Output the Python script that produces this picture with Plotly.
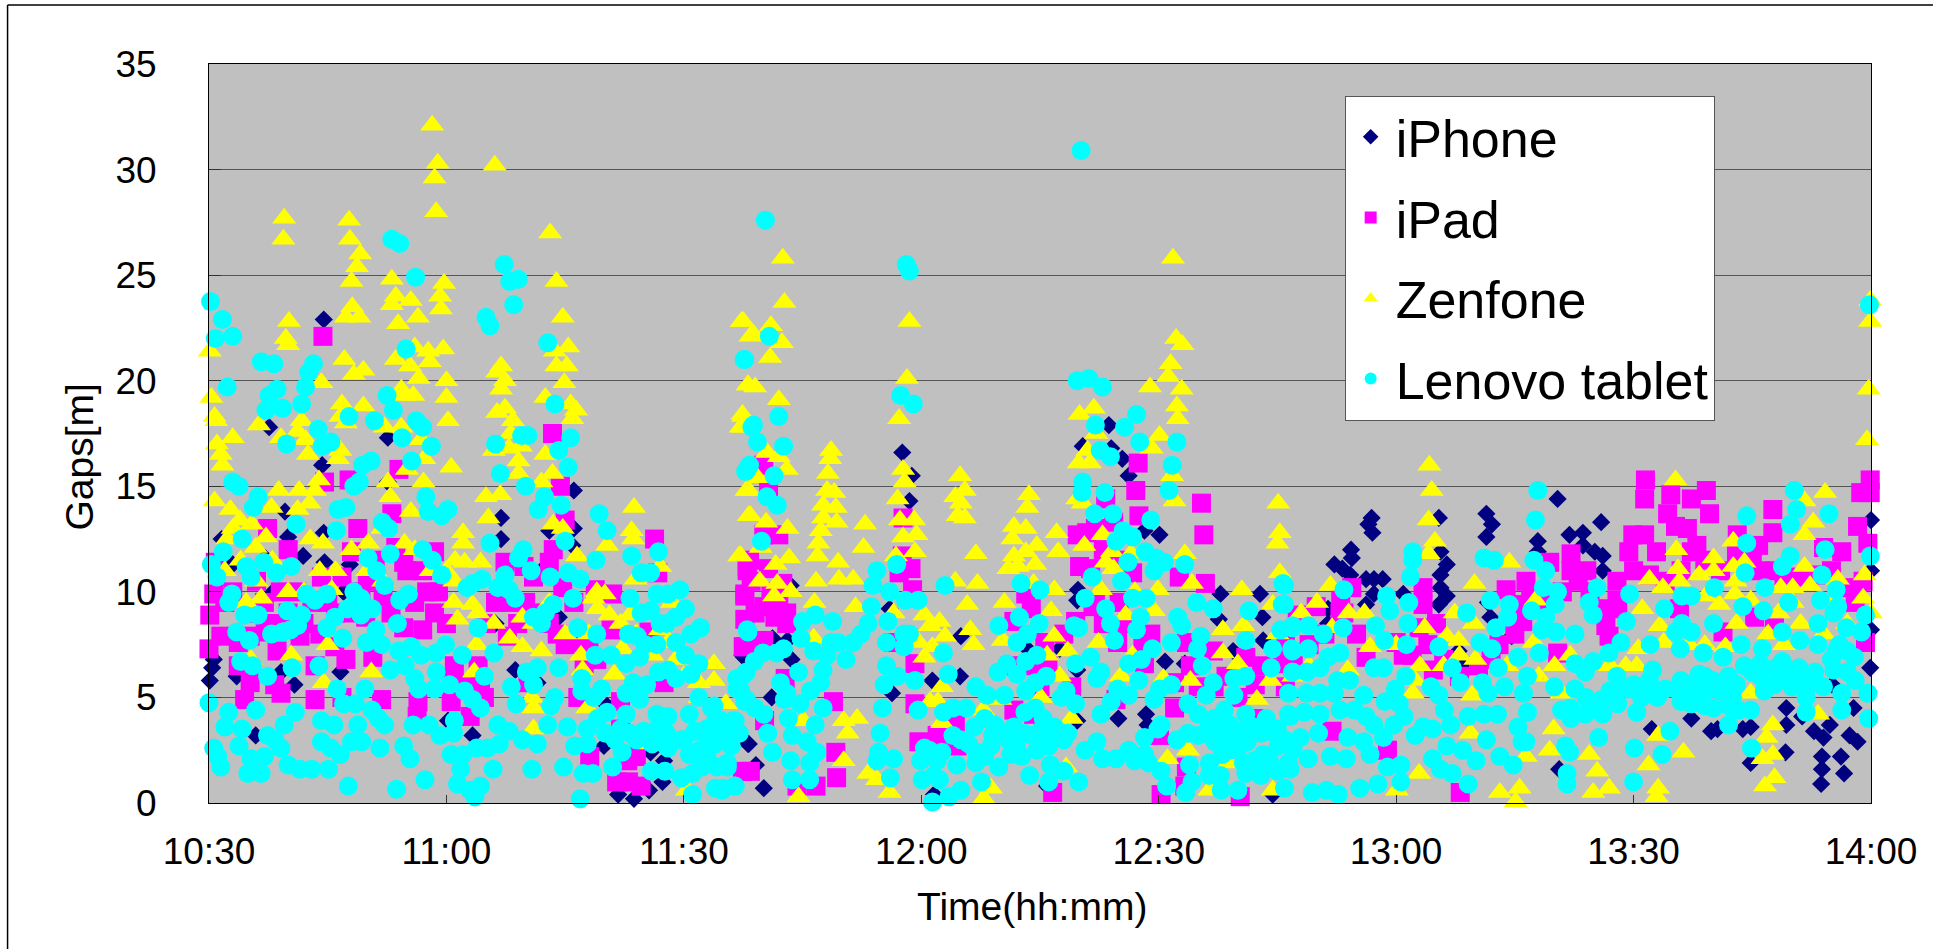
import pandas as pd
import plotly.graph_objects as go

# (minutes after 10:30, gap in metres)
iphone = [(14.5,22.9),(7.6,17.8),(22.6,17.3),(14.3,16),(22.6,15.2),(46.1,14.8),(36.9,13.5),(9.6,13.8),(36.9,12.5),(46.1,13),(43,12.9),(10,12.6),(14.5,12.8),(45.9,12.2),(1.6,12.5),(11.9,11.7),(3,11.3),(7.1,11.6),(14.6,11.4),(17.8,11.3),(8.1,10),(17,10),(42.5,11.2),(44.2,8.8),(36.2,8.5),(38.7,6.3),(.4,6.4),(.6,6.8),(.1,5.8),(10.8,5.6),(16.6,6.2),(9.1,6.2),(5.9,3.2),(3.5,6),(49.9,2.7),(51.7,.4),(53.7,.2),(55.6,.6),(57.3,1),(57.5,2),(55.8,2.4),(50.3,4.6),(68.1,2.8),(67.6,6.9),(33.3,3.2),(30.2,3.9),(41.5,5.7),
(87.6,16.6),(88.8,15.5),(88.5,14.3),(113.7,17.9),(114,16.8),(115.4,16.3),(116.2,15.5),(110.4,16.9),(118.2,12.9),(120.1,12.7),(127.8,9.9),(132.8,9.9),(133.1,8.8),(127.6,8.7),(133.2,7.7),(129.4,7.2),(123.3,6.6),(120.8,6.7),(118.4,4.2),(118.6,3.7),(114.9,4),(109.8,10.1),(109.7,9.6),(86.3,5.2),(86,9.2),(95,7.9),(91.4,5.8),(94.9,6),(68.2,2.8),(69.1,1.8),(70.1,.7),(71.1,5),(67.4,7),(73.6,6.8),(73.1,7.7),(73.5,10.3),(103.4,7.3),(107.5,7.3),(109.7,6.3),(109.7,3.9),(105.9,.8),(134.4,.4),(91.6,.4),(71.2,7.8),
(146.9,13.5),(146.5,13.2),(147,12.8),(161.4,13.7),(162.1,13.2),(161.4,12.6),(170.4,14.4),(175.9,13.3),(171.9,12.7),(173.6,12.8),(173.6,12.2),(155.4,13.5),(144.3,12),(144.4,11.6),(142.2,11.3),(143.2,11.1),(144.2,10.8),(146.2,10.6),(147.2,10.6),(148.3,10.6),(147.2,9.9),(146.2,9.4),(141.4,9.2),(141.4,8.5),(155.6,11.9),(156.4,11.3),(155.6,10.8),(155.6,10.2),(156.4,9.8),(155.4,9.4),(150.9,9.9),(167.9,12.4),(167.9,11.9),(175.1,11.9),(176.1,11.7),(176.1,11),(161.6,9.5),(161.9,8.8),(157.9,7.2),(158.4,6.5),(164.6,7.9),(210,13.4),(210,11),(210,8.2),(209.9,6.4),
(187.3,4),(189.8,3.4),(190.6,3.5),(193.8,3.5),(194.8,3.6),(199.3,4.5),(199.3,3.7),(201.3,4.1),(204.8,3.7),(202.8,3.4),(204,3.1),(199.2,2.4),(207.3,3.2),(208.3,2.9),(207.8,4.5),(203.8,2.2),(206.2,2.2),(203.8,1.6),(206.6,1.4),(203.7,.9),(205.1,5.6),(194.8,1.9),(170.6,1.6),(182.3,3.5)]

ipad = [(14.4,22.1),(43.4,17.5),(44.4,15),(14.6,15.2),(17.7,15.3),(24,15.8),(7.4,13),(18.8,13),(10,12),(45,13.4),(43.5,12),(56.3,12.5),(56.7,10.9),(23.1,13.7),(23.6,12.1),(24.6,11.4),(28.5,11.9),(37.4,11.4),(39.8,11.2),(.8,11.4),(.6,9.9),(.1,8.9),(0,7.3),(1.5,7.9),(3.7,7.6),(5.2,7.9),(3.7,6.5),(5.2,5.7),(4.5,4.9),(9.1,5.2),(8.3,5.6),(13.4,4.9),(13.4,6.5),(16.8,5),(21.8,4.9),(26.4,4.8),(26.3,4.1),(30.6,4.8),(34.8,5),(33,4.1),(7.1,8.1),(8.6,7.2),(11.5,7.9),(14.2,10.7),(16.8,10.7),(18,11.9),(19.2,10),(19.8,8.8),(15.9,7.4),(17.3,6.8),(20.7,6.9),(24.6,8.3),(27.5,10),(28.5,9),(27,8.2),(30.9,5.7),(34.3,5.7),(36.2,9.5),(37.7,7.9),(41,10.7),(43,11.4),(44,8),(44.7,10.2),(46.1,9.5),(46.4,7.6),(48.8,10.1),(51,9.9),(50.8,8.2),(47.4,6.5),(46.6,5),(48.1,2.2),(51.5,1),(52.9,2),(54.6,.8),(55.6,8.1),(57.5,5.7),(52,4.8),(68,11.2),(67.7,9.9),(67.7,7.4),(68.4,1.5),(40.3,5.7),
(70.1,16),(70.7,14.8),(70.1,12.7),(72,12.7),(68.3,11.5),(68,11),(70.7,11.1),(72.5,10.4),(67.7,9.8),(67.7,8.7),(70.1,9.3),(73,9),(73,8.5),(67.5,7.4),(70.1,7.7),(72.8,5.9),(70.2,3.9),(67.4,1.5),(74.3,.8),(76.7,.8),(78.9,4.8),(79.2,2.4),(79.3,1.2),(87.7,13.5),(87.6,11.7),(87.2,10.9),(88.7,11.1),(88.9,10.1),(86.5,7.6),(89.2,6.6),(89.7,2.9),(92,3.2),(94.3,3.7),(94.5,2.7),(117.4,16.1),(117.1,14.8),(117.5,13.6),(125.4,14.2),(125.7,12.7),(122.6,10.7),(125.9,10.4),(109.7,12.7),(110.9,12.8),(110,11.2),(111.4,11.1),(113.3,14.4),(114.3,13.3),(116.7,10.9),(111.7,9.3),(109.5,8.6),(105.6,7.6),(103.9,9.2),(101.7,8.6),(103.2,9.9),(109,5.5),(101.7,4.4),(104.2,4.2),(114.8,7.6),(114.6,4.9),(118.2,6.6),(120.3,.4),(120.1,3.2),(122,5.7),(123.5,7.6),(123.5,1.7),(123.3,.8),(126.9,7.2),(131,6.9),(132.2,5.6),(130,3.2),(130.3,.3),(135.6,6.6),(137.5,8.9),(106.6,.5),(89.2,4.7),
(181.5,15.3),(181.4,14.4),(189.2,14.8),(184.7,14.6),(187.3,14.4),(189.6,13.7),(184.3,13.7),(197.6,13.9),(209.9,15.3),(208.7,14.7),(209.9,14.7),(208.3,13.1),(209.6,12.3),(179.9,12.7),(181.4,12.7),(185.3,13.1),(186.8,13),(193.1,12.7),(179.4,11.9),(182.9,11.9),(187.3,11.9),(197.6,12.8),(195.8,12.2),(204,12.1),(206.3,11.9),(172.1,11.8),(169.4,11.4),(172.1,11),(174.1,11),(177.9,10.5),(177.9,9.6),(163.9,10.1),(166.4,10.5),(165.4,9.4),(153.4,10.2),(153.4,9.4),(152.9,8.3),(155.1,8.5),(139.9,9.3),(143.4,9),(144.4,10.2),(150.9,7),(146.2,6.9),(154.7,6.3),(160.4,6.5),(170.4,7.1),(176.9,7.9),(176.1,9.2),(185.8,9.2),(191.3,8.1),(195.3,8.8),(197.8,8.3),(208.3,9.9),(209.3,7.6),(158.1,.5),(148.9,2.5),(141.9,3.4),(142.9,9),
(180,11),(182,10.8),(184,10.5),(186,11),(188,12.2),(189,11.5),(191,11),(193,11.8),(195,11.5),(196,11),(198,11),(199,10.5),(201,10.7),(203,10.8),(205,11),(207,10.2),(208,9.5),(209,10.5),(178,9.2),(176.5,8.4),(174.5,10),(173,10.5),(171,10),(169,9.5),(167,9.8),(166,8.6),(165,8),(163,7.5),(162,6.8),(158,6),(156,6.8),(154,7.5),(152,7),(150,7.6),(145,8),(143,9.7),(141,8),(139,7.5),(137,6.5),(136,7.5),
(2,9.5),(3,10),(5,9),(6,10.5),(7,9.5),(8,8.5),(9,10),(10,9),(11,10),(12,8.5),(13,9.5),(14,8),(15,9.5),(16,9),(18,9),(20,10.5),(21,11.5),(22,9.8),(23,9),(25,11),(26,9.5),(27,11),(29,10),(30,8.5),(31,6.5),(32,5.5),(34,6.5),(35,8.5),(38,9.5),(39,8.5),(40,9.5),(42,9),(43,8.5),(45,7.5),(48,7.5),(49,6.8),(52,3.5),(54,2.2),(53,1),
(68.5,10.5),(69,9),(69,7.5),(71,10),(71.5,8.8),(72,9.5),(112,13),(113,12),(115,11.5),(112,9.5),(113,8.5),(115,9.5),(116,8.5),(118,7.5),(119,8),(104,6.5),(105,5.5),(106,6.5),(102,6.5),(108,8),(122,4.5),(124,6.5),(125,5.5),(127,5.5),(128.5,6),(130,5),(132,4),(133,6.5),(136,5.5)]

zenfone = [(28.2,32.1),(28.9,30.3),(28.5,29.6),(28.7,28),(36.1,30.2),(9.5,27.7),(9.4,26.7),(17.7,27.6),(17.8,26.7),(19.1,26),(18.7,25.4),(18,24.7),(23.1,24.8),(29.7,24.6),(29.2,24),(29.3,23.4),(23.6,24),(23.1,23.6),(25.5,23.8),(26.4,23),(18.1,23.5),(17.3,23),(19,23),(23.9,22.7),(10.1,22.8),(9.7,22),(10,21.7),(.1,21.4),(17.1,21),(23.6,21),(26,21.6),(27.7,21.4),(29.6,21.5),(27.9,20.9),(25.4,20.7),(19.5,20.5),(18.3,20.3),(26.5,20.1),(30,20),(14.2,19.9),(24.3,19.6),(25.8,19.3),(24.6,19.3),(30,19.2),(.3,19.2),(.7,18.3),(.9,18.1),(19.5,18.8),(16.8,18.9),(16.6,18.3),(17.3,18),(6.3,17.9),(30.2,18.1),(24.3,17.8),(22.2,17.8),(11.7,18.1),(11.2,17.6),(12.2,17.2),(3,17.3),(1,17),(9.1,17.3),(26.8,17.2),(12.5,16.5),(16.6,16.7),(1.5,16.5),(1.7,16),(27.2,16.3),(16.3,16.3),(30.6,15.9),(25,15.8),(27.1,15.2),(8.8,14.8),(11.4,14.8),(22.6,15.2),(22.9,14.5),(13.9,15.3),(13.4,14.8),(12.7,14.2),(.7,14.3),(7.9,14),(11.2,13.9),(2.7,13.9),(3.9,13.4),(5.4,13.2),(3,13),(2.3,12.5),(5.9,12.1),(7.2,12.6),(12.8,12.5),(14.4,12.3),(20.1,12.3),(24.7,12.3),(25.5,13.8),(21.9,13),(32.1,12.8),(32.1,12.3),(31.1,11.5),(32.3,11.4),(34.3,11.4),(35,14.5),(36.8,14.6),(35.3,13.5),(36.9,20.7),(36.4,20.4),(37.4,20),(36.9,19.6),(37.4,18.7),(36.4,18.5),(38.4,18.1),(38.1,17.5),(39.4,16.9),(37.9,16.8),(39.1,16.2),(39.1,15.6),(36,16.7),(43.1,27),(43.9,24.7),(44.7,23),(43.7,21.4),(45.4,21.6),(43.9,20.7),(45.2,20.7),(44.9,19.9),(42.5,19.2),(45.7,18.9),(46.4,18.6),(45.9,18.2),(42.5,16.5),(43.4,15.6),(42,15.2),(43.5,13.2),(44.7,13),(46.5,11.7),(53.7,14),(53.4,12.9),(53.6,12.5),(50.3,12.2),(57,11.2),(53.9,10.6),(48.6,9.7),(50,9.9),(49.1,9.2),(50.6,8.9),(53.2,8.9),(58.5,9.5),(58,7.6),(52.2,7.3),(51.2,6.1),(47,7),(47.2,6.3),(47.8,4.5),(41,4.5),(40.8,5),(39.6,7.4),(42,7.2),(39.6,8.8),(33.8,7.5),(33.5,6.2),(31.4,8.7),(30.9,9.5),(33.3,9.4),(10.4,7),(15,7.5),(14.5,5.7),(20.5,6.2),(5.3,6.8),(6.6,9.7),(4.7,9.5),(15.5,10.1),(55.6,2.8),(63.8,6.6),(63.8,5.8),(61.9,5.7),(67.2,11.7),(67.5,22.8),(68.4,22.1),(68.1,19.8),(67.5,18.3),(67.5,17.8),(68.2,14.8),(68.2,13.6),(41,3.5),(60.4,.6),(65.3,4.7),
(72.5,25.8),(72.7,23.7),(88.5,22.8),(67.3,22.8),(68.8,22.2),(71,22.6),(72.4,21.8),(70.9,21.1),(88.2,20.1),(68.1,19.8),(69,19.7),(72,19.1),(67.4,18.4),(67.2,17.8),(87.2,18.2),(70.5,16.6),(72,16.4),(73,15.8),(69.3,15.4),(67.9,14.8),(68.4,13.6),(70.4,13.3),(73.1,13),(69.7,12.1),(67,11.7),(73.3,11.6),(71.6,11.3),(69.6,10.5),(71.8,10.4),(73.5,10),(71.4,9.8),(78.6,16.7),(78.5,16.3),(78.2,15.6),(78.1,14.8),(79,14.7),(77.6,14.1),(79.2,14),(77.6,13.5),(79.3,13.3),(77.3,12.9),(77,12.3),(76.9,11.7),(82.9,13.2),(82.7,12.1),(79.5,11.4),(79.6,10.6),(81.4,10.6),(76.7,10.5),(76.5,9.5),(81.7,9.3),(76.4,7.8),(80.2,3.9),(81.9,4),(80.7,3.3),(80.2,2),(83.3,1.4),(84.4,1.1),(86,.5),(74.5,.3),(75.1,3.9),(87.7,15.8),(87.9,15.2),(87,14.4),(87.3,13.4),(89.1,13.4),(87.7,12.6),(89.4,12.7),(89.2,11.9),(86.8,11.7),(86.5,9),(90.4,8.9),(92.3,8.6),(91.1,8.4),(93,7.9),(89.7,7.6),(91.4,7.4),(90.4,6.9),(94.3,10.5),(96.9,11.8),(97.1,10.4),(95.8,9.4),(96.2,8.2),(96.6,7.5),(94.9,15.5),(95.5,14.8),(94.3,14.5),(95,14.2),(94.6,13.6),(95.5,13.5),(91.1,4.8),(92.1,4.8),(92.6,5.5),(92.6,3.8),(97.9,.2),(98.8,.7),(97.8,4.4),(100,4.9),
(103.6,14.6),(103.4,14),(101.7,13.1),(103.2,13),(101.5,12.5),(107.1,12.8),(107.3,11.9),(104.6,12.2),(103.2,11.9),(101.7,11.7),(104.4,11.3),(101,11.1),(102.2,11.2),(106.8,10.1),(104.2,10.4),(100.5,9.5),(106.4,9.1),(100.3,7.7),(106.8,7.9),(105.9,7),(108.5,7.2),(107.5,6),(105.1,5),(108.3,1.7),(109,4),(121.8,25.8),(122.2,22),(123,21.7),(121.5,20.8),(121.2,20.2),(122.9,19.6),(118.9,19.7),(122.3,18.8),(122.4,18.2),(120.1,17.4),(119.1,16.8),(121.7,15.5),(122,14.3),(111.8,18.7),(110,18.4),(112.1,17.5),(111,16.7),(109.9,16.1),(111.3,16.1),(109.7,14.4),(110.4,14.2),(112.9,12.7),(110.6,12.2),(114.1,11.9),(116.5,11.8),(113.3,11.4),(114.3,11.1),(112.7,10.1),(117,10),(119.9,10.1),(123.3,11.8),(124.2,10.4),(135.1,14.2),(135.3,12.8),(135,12.3),(135.3,10.9),(134.4,9.4),(130.5,10.1),(130.7,8.4),(128.1,8.2),(128.1,7.1),(130,6.6),(134.1,5.8),(132.4,4.9),(124,5.8),(120.6,5.9),(119.4,9.1),(112.4,7.6),(115.8,8.9),(116.7,7),(115.2,6),(121.1,2.1),(123.7,2.5),(126.4,.6),(128.8,1.9),(134.4,.6),
(154.2,16),(154.5,14.8),(154.1,13.4),(154.9,12.4),(154.1,11.8),(159.9,10.4),(164.3,11.4),(141.7,10.3),(157.4,9),(157.9,7.7),(153.6,8.3),(159.8,8.5),(156.4,7.9),(146.7,7.4),(143.9,6.3),(141.9,8.3),(167.6,9.6),(167.4,7.6),(152.4,5.8),(152.1,5.2),(159.6,5.1),(159.4,3.3),(166.4,2.2),(165.6,.7),(163.1,.5),(165.1,.05),(152.9,1.4),(150.1,.6),(170.9,5.2),(169.9,3.5),(169.4,2.5),(174.4,2.3),(175.4,1.5),(174.9,.5),(176.9,.7),(183.1,3.2),(186.3,2.4),(181.9,1.8),(183.1,.7),(182.9,.3),(196.6,.8),(197.8,1.2),(196.3,2.1),(197.6,2.3),(196.8,3.1),(197.6,3.7),(194.8,5.2),(182,10.6),(183.7,10.2),(185.4,12),(185.6,11.1),(185.8,10.5),(185.3,15.3),(190.1,11.6),(190.1,11),(188.3,10.8),(192.6,12.4),(192.6,11.2),(194,11.4),(192.9,10.5),(189.1,9.8),(190.8,9.4),(192.8,9.9),(194.8,9.6),(181.1,9.2),(183.3,8.4),(180.6,7.3),(183.8,7.6),(180.4,6.5),(191.6,7.4),(198.6,10.2),(200.1,10.2),(201.6,12.7),(202.7,13.3),(201.6,11.2),(204.2,14.7),(201.6,14.3),(200.1,9.5),(202.3,10.3),(205.8,10.6),(209.2,10.8),(209,9.7),(198.3,9),(201.1,8.5),(205.3,9.6),(209.9,22.8),(209.7,19.6),(209.5,17.2),(209.9,23.8),(203.3,4.2),
(135,8),(137,6),(138,9),(139,6.5),(140,9.5),(144,9),(146,9),(150,7.5),(153,6.5),(156,6.5),(158,7),(160,6.8),(164,6.5),(168,6),(170,6.5),(172,7),(177,6.5),(179,6.5),(187,7.5),(189,7.5),(193,8.5),(197,8),(199,7.5),(204,8),(207,8.5),(210,9),
(2,11),(4,11.5),(6,10.5),(8,11.5),(10,10),(12,10),(14,11),(16,11),(18,12),(20,11),(22,10.5),(26,12),(28,11),(30,11),(31,10.5),(34,9),(36,8.5),(38,7.8),(41,8.5),(43,9.5),(45,8),(48,8),(49,10),(52,8.5),(54,8),(56,7),(57,8.2),(59,6.8),(60,6),(62,5)]

lenovo = [(.2,23.75),(1.7,22.9),(.8,22),(3,22.1),(6.6,20.9),(8.2,20.8),(13.2,20.8),(12.6,20.4),(2.3,19.7),(8.6,19.6),(12.2,19.7),(7.6,19.3),(7.2,18.6),(9.3,18.7),(11.7,18.9),(13.8,17.7),(9.8,17),(15.4,17.1),(14.3,16.9),(3,15.2),(3.8,15),(6.2,14.5),(5.6,14),(11,13.2),(4.2,12.5),(1.8,11.9),(.3,11.3),(1,10.7),(4.7,11.2),(5.3,10.7),(6.9,11.4),(8.5,10.9),(10.4,11.2),(2.9,9.9),(2.5,9.5),(12.3,9.9),(13.4,9.6),(14.9,9.9),(9.9,9.1),(11.7,8.9),(11.2,8.4),(4.5,8.9),(6.2,8.9),(3.5,8.1),(5.1,7.7),(7.9,8),(9.3,8.1),(10.3,8.2),(4,6.7),(5.5,6.5),(7.4,6),(10.5,6.4),(13.9,6.5),(0,4.75),(2.5,4.3),(2,3.6),(4.2,3.5),(5.9,4.4),(10.9,4.3),(9.5,3.7),(7.4,3.2),(8.3,3),(9.1,2.6),(3.8,2.7),(.6,2.6),(1.1,2.2),(1.5,1.7),(5.3,2.1),(7,2.2),(4.9,1.4),(6.6,1.4),(10,1.8),(11.5,1.6),(13,1.6),(15.1,1.6),
(23.1,26.7),(24.1,26.5),(26.1,24.9),(24.9,21.5),(22.5,19.3),(23.3,18.6),(17.7,18.3),(20.9,18.1),(26.2,18.1),(27,17.8),(24.4,17.3),(28.1,16.9),(25.6,16.2),(20.5,16.2),(19.4,16),(19,15.2),(18.3,15),(27.4,14.5),(17.3,14),(16.3,13.9),(27.7,13.8),(30.2,13.9),(29.4,13.6),(21.9,13.3),(22.7,13),(16.1,12.9),(22.9,11.8),(20.1,11.6),(21.2,11),(27,12),(28.2,11.5),(29.4,10.8),(22.2,10.3),(25.2,9.9),(24.1,9.6),(18.3,10),(19.2,9.7),(17.5,9.2),(15.9,8.8),(14.9,8.3),(20.6,9.2),(19.2,8.9),(23.8,8.5),(21.1,8.2),(19.9,7.6),(21.8,7.5),(16.9,7.8),(24,7.2),(25.6,7.4),(26.8,7),(28.7,7.1),(29.9,7.5),(32,7),(22.9,6.3),(24.8,6.5),(26,5.9),(28.7,6.2),(30.4,5.6),(26.5,5.4),(28.5,5.4),(32.3,5.3),(33.3,4.9),(34.3,4.5),(19.7,5.4),(16.2,5.4),(17,4.7),(18.5,4.7),(20.6,4.4),(21.4,4),(22.2,3.7),(14.2,3.9),(15.8,3.7),(18.8,3.7),(25.8,3.7),(27.8,3.7),(31,3.9),(29.2,3.2),(30.9,3.3),(14.2,2.9),(15.4,2.6),(16.6,2.3),(18,2.9),(19.3,2.9),(21.6,2.6),(24.6,2.7),(25.4,2.1),(17.6,.8),(23.7,.65),(27.3,1.1),(30.6,2.3),(32.1,2.3),(33.8,2.6),(35.2,2.6),(36.7,2.8),(35.9,1.6),(31.8,1.6),(31.4,.9),(33,.6),(34.3,.8),(33.6,.3),
(37.3,25.5),(38,24.7),(39.1,24.8),(38.5,23.6),(35,23),(35.5,22.6),(42.8,21.8),(43.7,18.9),(40.3,17.4),(39.5,17.4),(36.2,17),(45.7,17.3),(44.2,16.7),(45.4,15.9),(36.8,15.6),(40,15),(42.4,14.5),(44.5,14.1),(41.6,13.9),(49.3,13.7),(50.3,12.9),(35.5,12.3),(39.7,12),(45,12.4),(53.4,11.7),(48.9,11.5),(56.8,11.9),(39.1,11.6),(40.7,11),(54.6,10.9),(55.8,10.9),(43.1,10.7),(45.4,10.9),(46.9,10.6),(37.4,10.8),(34.5,10.6),(33.3,10.4),(32.6,10.2),(36.5,10.2),(37.9,10.1),(38.7,9.7),(46,9.7),(53.2,9.7),(56.6,9.9),(59.5,10.1),(58,9.9),(43.5,9.4),(42.5,9),(41,8.8),(42,8.5),(34,8.3),(46.6,8.3),(49,8),(54.6,9),(55.8,9.1),(60.2,9.2),(59,8.8),(57.8,8.5),(57,8.5),(62.1,8.3),(60.9,8),(53,8),(54.1,7.9),(59,7.6),(56.6,7.5),(55.1,7.5),(54.4,6.9),(52.7,6.6),(36,7.1),(48.8,7),(50.8,7),(60.2,7),(61.9,6.6),(44.2,6.4),(41.5,6.4),(40.1,6.2),(41,5.6),(34.8,6),(38.2,5.5),(38.8,4.7),(43.7,5),(43.2,4.6),(47.1,5.9),(47.1,5.3),(48.6,5),(49.6,5.4),(58,6.3),(56.8,6.2),(59,5.9),(60.9,6.1),(53.6,5.7),(55.3,5.6),(52.7,5.2),(54.4,4.9),(61.9,5),(63.8,4.6),(67.2,5.3),(66.7,5.9),
(36.5,3.7),(37.9,3.4),(39.6,3),(41.5,2.8),(42.8,3.7),(45.3,3.6),(40.8,1.6),(44.8,1.7),(46.2,2.7),(47.8,2.8),(47.3,1.4),(48.5,1.4),(46.9,.2),(50.3,4.3),(49.1,4),(47.8,3.5),(50.1,3.3),(51.3,3),(52.7,4.2),(53.2,3.3),(54.9,3.4),(56.6,3.5),(57.8,3.3),(52.2,2.4),(51,1.7),(55.9,1.5),(57.6,1.5),(59.7,3),(60.7,2.3),(60.7,4.2),(58,4.1),(56.6,4.2),(61.4,3.4),(62.9,3.5),(64.8,3.9),(66.5,3.9),(63.8,2.8),(65.8,3),(62.3,1.7),(64.2,1.7),(59.7,1.2),(61.1,1.4),(61.1,.4),(64.8,.6),(66.5,.8),(65.5,1.7),(67.7,4.8),(67.9,6.2),(68,8.2),(68,15.8),(67.7,21),(68.6,17.8),
(70.3,27.6),(110.2,30.9),(70.8,22.1),(67.6,21),(88.1,25.5),(88.5,25.2),(87.4,19.3),(89,18.9),(109.7,20),(111.2,20.1),(112.9,19.7),(68.8,17.9),(72,18.3),(69.3,17.1),(72.6,16.9),(68.3,16),(67.8,15.7),(71.4,15.5),(70.5,14.5),(71.8,14.1),(69.8,12.4),(68.1,8.1),(62.1,8.3),(117.2,18.4),(115.7,17.8),(112,17.9),(112.6,16.7),(113.9,16.4),(117.6,17.1),(122.3,17.1),(121.7,16),(121.3,14.8),(110.4,15.2),(110.3,14.7),(113.2,14.7),(111.9,13.7),(114.2,13.7),(119,13.4),(115.5,12.9),(116.7,12.6),(114.6,12.4),(118.3,11.9),(119.7,11.6),(120.7,11.4),(119.4,11),(116.1,11.4),(123.3,11.3),(111.6,10.7),(115.3,10.5),(135.7,10.4),(135.6,9.4),(86.9,11.3),(84.4,11),(93,10.3),(102.6,10.4),(105,10.1),(110.7,9.7),(116.7,9.7),(118.4,9.7),(124.8,9.5),(126.9,9.2),(131.4,9.1),(86,10),(88,9.6),(89.6,9.6),(83.9,10.3),(83.7,9.3),(83.3,8.5),(82.4,8),(81.4,7.6),(80.5,6.8),(78.8,8.6),(79.5,7.6),(78.6,7.6),(78.1,7),(77.6,6.3),(77.3,5.7),(77.6,4.5),(76.6,8.9),(75,8.6),(74.8,7.8),(76.4,7.2),(74.5,6.2),(76,5.3),
(85.8,8.6),(85.6,7.6),(87.8,8),(88.5,8),(87.8,7.4),(92.8,7.1),(85.6,6.5),(87,6),(85.3,5.6),(89.2,5.8),(93.4,6.1),(85.1,4.5),(84.8,3.3),(84.6,2.4),(84.4,2),(86.5,2.1),(86.1,1.2),(99.8,8.4),(102.4,8.8),(102.1,7.6),(103.4,8),(104.9,8.5),(103.2,6.7),(104.6,7),(109.3,8.4),(109.9,8.3),(109.5,6.6),(111.4,6.9),(114.4,7.7),(113.3,9.2),(113.9,8.5),(117.7,8.8),(117.2,8.2),(119.2,7.3),(117.8,6.8),(116.2,6.6),(121.6,7.6),(122.4,8.8),(122.9,8.4),(125.3,7.9),(124.9,7.3),(125.5,6.5),(131,7.7),(135.4,8.2),(136.9,8.4),(134.4,7.3),(136.8,7.3),(134.2,6.4),(131,6),(129.5,5.9),(126.9,5.7),(112.2,5.9),(112.7,6.2),(117.5,5.8),(114.8,5.4),(116.2,5.1),(114,4.8),(112.7,4.2),(100.8,6.6),(99.7,6.2),(102.1,6.1),(105.8,6),(104.4,5.7),(103.2,5.3),(100.5,5.1),(96.9,5.5),(98.3,5.1),(95.7,4.5),(94,4.5),(92.8,4.3),(89.6,4.4),(108.3,5.3),(107.7,5),(109.5,4.7),(104.4,4.5),(103.1,4.3),(119.4,4.9),(120.1,5.4),(121.6,5.6),(120.3,3.7),(119.9,3.5),(118.2,3.1),(123.7,4.7),(125,4.2),(126,5.1),(131,4.2),(129.5,5.1),(128.3,4.4),(136.6,4.1),(133.6,4),(123.7,3.3),(122.3,3),(125,3.2),(126.4,3.8),(127.1,2.9),(126.4,1.9),(126.4,1.3),(128.8,3.1),(131.2,2.9),(133.2,2.3),(130.7,1.9),(132.9,1.3),(135.1,2.7),(137,2.5),(136.6,1.6),(127.8,1.3),(130,.6),(127.9,.6),(123.9,1.8),(124.2,1),(123.4,.5),(121,.8),(120.3,1.5),(118.7,1.9),(117,2),(118.2,2.3),(116.2,2.5),(114.6,2.1),(112.9,2.1),(110.7,2.5),(112.2,2.9),(109.9,1),(108.5,3.3),(106.8,3.6),(105.4,4),(106.1,2.7),(104.6,2.5),(102.7,2.2),(101.3,2.3),(106.3,1.8),(108,1.5),(106.1,1),(103.7,1.3),(101.7,3.6),(99.3,3.7),(96.7,3.6),(94,3.2),(98.8,2.7),(96.9,1.9),(94.5,1.8),(99.8,1.7),(97.6,1),(95,.6),(93.5,.3),(91.4,.05),(90.4,2.6),(92.6,2.4),(89.9,2),(91.6,1.3),(90.1,1.1),(92.3,1.1),(73.7,1.1),(75.9,1.1),(73.5,2),(75.9,1.9),(71.2,2.4),(70.6,3.3),(73.2,4),(73.7,3.2),(76.6,3.7),(76.8,2.4),(75.6,2.9),(72.2,5.7),(73,5.2),(74.7,4.7),(72.7,4.9),(70.1,4.2),(68.9,6.7),(70,7.1),(71.7,7.1),(72.6,7.3),(67.4,6),(66.7,5.4),(67.9,4.9),(69,4.5),(63.5,4.5),(66.2,3.9),(64,3.9),(62.8,3.4),(65,3),(63,2.1),(65.5,1.9),(65,.7),(66.4,.8),(64,.7),(66,2.7),
(167.9,14.8),(167.6,13.4),(200.3,14.8),(200.6,13.9),(199.8,13.2),(194.3,13.6),(204.7,13.7),(209.8,23.6),(209.9,11.7),(204.2,12),(194.3,12.3),(199.8,11.7),(198.8,11.2),(152.1,11.9),(152.1,11.5),(151.8,10.7),(151.6,9.5),(148.8,9.8),(149.2,9.1),(151.5,8.5),(147.4,8.4),(148.5,7.7),(151.3,7.5),(143.4,10.1),(143.3,8.3),(135.9,10.3),(135.9,9.4),(136.9,8.3),(138.9,8.4),(140.8,8),(136.9,7.2),(138.9,7.3),(142.9,7.1),(141.4,6.9),(140.4,6.4),(147.2,6.4),(148.4,6.4),(136.9,6.2),(138.7,6.2),(142.6,5.8),(144.1,5.8),(151.2,6),(145.9,5.1),(149.9,5.4),(148.6,4.8),(150.4,4.7),(136.4,5.2),(138.7,5.2),(140.4,5.2),(142.2,5.2),(136.4,4.2),(138.4,4.3),(140.4,4.2),(142.9,4.4),(144.7,4.4),(146.2,4.1),(147.2,3.7),(149.7,3.7),(151,4.1),(137.9,3.1),(140.2,3.3),(135.9,3),(143.9,3.1),(145.9,2.9),(148.4,3.1),(136.4,1.9),(138.9,2.1),(141.7,2.2),(143.7,2.1),(146.7,2.3),(148.9,1.7),(150.6,1.8),(147.7,.9),(145.4,.7),(135.9,.7),(139.4,.5),(141.2,.6),(142.7,.4),(150.6,1),
(155.4,7.4),(153.4,3.6),(152.4,3.2),(154.6,3.5),(154.4,5.5),(155.4,5.1),(156.1,4.4),(156.9,3.7),(155.6,1.6),(154.6,2.1),(156.4,2.7),(157.1,6.4),(158.1,5.7),(161.1,11.6),(162.4,11.5),(161.9,9.6),(164.3,9.4),(164.1,8.8),(162.6,8.3),(158.9,9),(160.6,7.6),(162.1,7.3),(162.9,6.4),(160.9,5.7),(163.7,5.5),(161.6,5.2),(159.1,4.1),(161.1,4.2),(162.8,4.2),(161.4,3),(158.4,2.5),(160.1,2),(159.1,.9),(157.1,1.4),(163.1,2.2),(164.8,1.8),(165.9,2.9),(165.4,6.9),(168.1,7.1),(167.4,11.5),(168.9,11),(168.6,10.2),(170.4,10),(170.1,9.4),(167.1,9.1),(168.9,8.8),(168.4,8.2),(170.2,8.1),(172.6,8),(175.4,10.2),(174.4,9.5),(174.9,8.9),(179.5,9.9),(179.1,8.6),(178.4,7.6),(176.9,7.1),(174.9,6.7),(172.6,6.6),(173.9,6.2),(166.6,6),(166.1,5.2),(166.6,4.3),(165.4,3.6),(166.4,2.9),(172.6,5.4),(170.9,4.4),(172.1,4),(173.9,4.2),(171.4,2.7),(171.9,2.4),(176.1,4.2),(175.6,3.1),(171.6,1.4),(171.6,.9),(180,1),(180.1,2.6),(184.6,3.4),(183.6,2.3),(177.9,6),(179.4,5.4),(181.6,5.4),(183.3,5.2),(180.4,4.3),(185.3,5.4),(182.1,7.5),(182.4,6.3),(183.9,9.2),(186.1,9.8),(187.3,9.8),(186.1,8.5),(185.3,8.1),(187.3,8.1),(185.9,7.3),(190.1,8.5),(190.2,10.2),(188.8,7.1),(188.3,6.1),(191.3,6.9),(187.3,4.7),(189.6,5.4),(190.1,4.5),(191.6,5.8),(192,3.7),(193.8,9.3),(194.1,10.9),(196.6,10.2),(196.4,9.1),(193.6,7.5),(196.3,7.3),(196,6),(194.8,4.4),(193.3,4.4),(194.9,2.6),(199.6,9.5),(203.6,9.6),(205.6,10.1),(205.8,9.3),(203.8,10.8),(201,7.7),(198.8,8.1),(203.3,8.5),(206.9,8.3),(209.3,8.9),(205.3,9),(208.8,8.1),(203.3,7.5),(205.6,7.2),(207.9,6.9),(198.8,6.7),(200.9,6.4),(202.9,6.2),(197.8,5.6),(205.3,6.3),(209.6,5.2),(209.7,4),(206.3,5.2),(206.3,4.4),(201.8,5),(201.8,4.3),
(178,5.5),(180,5.6),(181,5),(182,5.8),(184,5.4),(186,5.8),(187,5.6),(188,5.2),(189,6),(190,5.8),(191,5.3),(192,6),(192.5,5),(193,5.6),(195,6.2),(196.5,5.3),(198,6.4),(199,6),(200,5.5),(201,6.2),(202,5.5),(204,5.5),(205,6.8),(207,6.2),(208,5.8),(176,4.9),(175,4.5),(174,5),(172,4.5),(177,5.3),(170,5.5),(178,4.7),(183,5),(186,4.8),(189,4.6),(192,4.6),(194,6.5),(196,6.6),(206,7.5),(207,7.2),
(98,4),(99,3.2),(100,3.4),(101,3),(102,2.8),(103,3.3),(104,3.2),(105,3.4),(106,3),(107,3.5),(108,3),(95,3),(96,2.8),(97,2.4),(98,2.2),(92,2),(91,2.5),(128,3.5),(129,3.7),(130,3.4),(131,3.5),(132,3.6),(133,3.3),(134,3.4),(135,3.5),(126,3.3),(127,4),(128,2.3),(129,2.5),(130,2.6),(131,1.4),(132,2),(134,2),(135,1.5),(52,3.5),(54,3),(56,2.8),(58,2.6),(60,3),(62,2.5),(63,3),(64,2.8),(65,3.5),(66,3.4),(67,3.3)]

START = pd.Timestamp("2016-01-01 10:30")
END = START + pd.Timedelta(minutes=210)

# plot-area box in page pixels
L, R, T, B = 208.5, 1871, 64, 803


def times(points):
    return [START + pd.Timedelta(minutes=p[0]) for p in points]


def gaps(points):
    return [p[1] for p in points]


def px(x):
    return (x - L) / (R - L)


def py(y):
    return (B - y) / (B - T)


series = [
    ("iPhone", iphone, "diamond", "#000080", 14),
    ("iPad", ipad, "square", "#FF00FF", 19),
    ("Zenfone", zenfone, "triangle-up", "#FFFF00", 21),
    ("Lenovo tablet", lenovo, "circle", "#00FFFF", 19),
]

FONT = "Liberation Sans"
fig = go.Figure()
for name, pts, symbol, color, size in series:
    fig.add_trace(go.Scatter(
        x=times(pts), y=gaps(pts), mode="markers", name=name, legendgroup=name, cliponaxis=False,
        marker=dict(symbol=symbol, color=color, size=size, line=dict(width=0)),
    ))

fig.update_layout(
    width=1933, height=949,
    margin=dict(l=L, r=1933 - R, t=T, b=949 - B, pad=0),
    paper_bgcolor="white", plot_bgcolor="#C0C0C0",
    font=dict(family=FONT, color="black"),
    legend=dict(
        x=px(1344.5), y=py(95.5), xanchor="left", yanchor="top",
        bgcolor="white", bordercolor="#555555", borderwidth=1,
        font=dict(family=FONT, size=52, color="black"),
        itemsizing="constant", itemwidth=40, traceorder="grouped", tracegroupgap=10,
        entrywidth=360, entrywidthmode="pixels",
    ),
    xaxis=dict(
        type="date", range=[START, END], dtick=1800000, tick0=START, tickformat="%H:%M",
        ticks="inside", ticklen=8, tickcolor="#333333", showgrid=False, zeroline=False,
        showline=True, linecolor="black", linewidth=1, mirror=True,
        tickfont=dict(size=37), ticklabelstandoff=16,
    ),
    yaxis=dict(
        range=[0, 35], dtick=5, ticks="inside", ticklen=12, tickcolor="#333333",
        showgrid=True, gridcolor="#555555", gridwidth=1, zeroline=False,
        showline=True, linecolor="black", linewidth=1, mirror=True,
        tickfont=dict(size=37), ticklabelstandoff=44,
    ),
    annotations=[
        dict(text="Time(hh:mm)", xref="paper", yref="paper", x=px(1032), y=py(906),
             xanchor="center", yanchor="middle", showarrow=False, font=dict(size=39)),
        dict(text="Gaps[m]", xref="paper", yref="paper", x=px(78), y=py(457), textangle=-90,
             xanchor="center", yanchor="middle", showarrow=False, font=dict(size=39)),
    ],
    shapes=[
        dict(type="line", xref="paper", yref="paper", x0=px(7), x1=px(7), y0=py(949), y1=py(5),
             line=dict(color="black", width=1.5)),
        dict(type="line", xref="paper", yref="paper", x0=px(7), x1=px(1933), y0=py(5), y1=py(5),
             line=dict(color="black", width=1.5)),
    ],
)

fig.write_html(
    "out.html",
    config={"displayModeBar": False},
    post_script="document.body.style.margin='0';document.body.style.overflow='hidden';",
)
